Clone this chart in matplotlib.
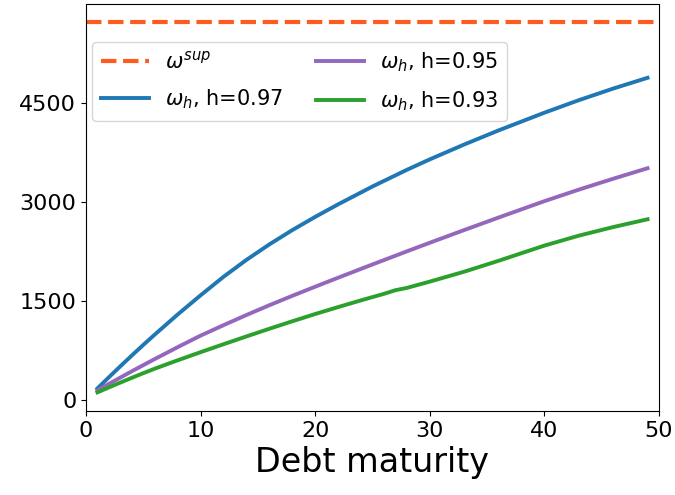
import matplotlib
matplotlib.use("Agg")
import matplotlib.pyplot as plt

# Data
omega_sup = 5715
x_sup = [0, 50]

x_blue = [1, 2, 3, 4, 5, 6, 8, 10, 12, 14, 16, 18, 20, 22, 25, 28, 30, 33, 36, 40, 43, 46, 49]
y_blue = [180, 349, 515, 678, 838, 994, 1298, 1588, 1868, 2124, 2358, 2574, 2774, 2964,
          3234, 3486, 3644, 3869, 4082, 4350, 4539, 4715, 4878]

x_purple = [1, 2, 3, 4, 5, 6, 8, 10, 12, 14, 16, 18, 20, 22, 25, 28, 30, 33, 36, 40, 43, 46, 49]
y_purple = [150, 248, 344, 439, 532, 624, 804, 978, 1136, 1290, 1438, 1580, 1718, 1854,
            2055, 2253, 2383, 2575, 2764, 3012, 3186, 3351, 3510]

x_green = [1, 2, 3, 4, 5, 6, 8, 10, 12, 14, 16, 18, 20, 22, 24, 26, 27, 28, 30, 33, 36, 40, 43, 46, 49]
y_green = [120, 195, 268, 340, 410, 478, 605, 728, 848, 966, 1082, 1195, 1305, 1410,
           1512, 1610, 1665, 1700, 1795, 1945, 2110, 2340, 2490, 2620, 2738]

fig = plt.figure(figsize=(6.75, 4.95), dpi=100)
ax = fig.add_axes([0.1274, 0.170, 0.8489, 0.822])

ax.plot(x_sup, [omega_sup, omega_sup], ls='--', color='#ff5a1f', lw=3, label=r'$\omega^{sup}$')
ax.plot(x_blue, y_blue, color='#1f77b4', lw=2.8, label=r'$\omega_h$, h=0.97')
ax.plot(x_purple, y_purple, color='#9467bd', lw=2.8, label=r'$\omega_h$, h=0.95')
ax.plot(x_green, y_green, color='#2ca02c', lw=2.8, label=r'$\omega_h$, h=0.93')

ax.set_xlim(0, 50)
ax.set_yticks([0, 1500, 3000, 4500])
ax.tick_params(labelsize=16)
ax.set_xlabel('Debt maturity', fontsize=24)
ax.legend(loc='upper left', bbox_to_anchor=(-0.007, 0.933), ncol=2, fontsize=15,
          columnspacing=1.55, handlelength=2.3, labelspacing=0.75)

fig.savefig('out.png', dpi=100)
